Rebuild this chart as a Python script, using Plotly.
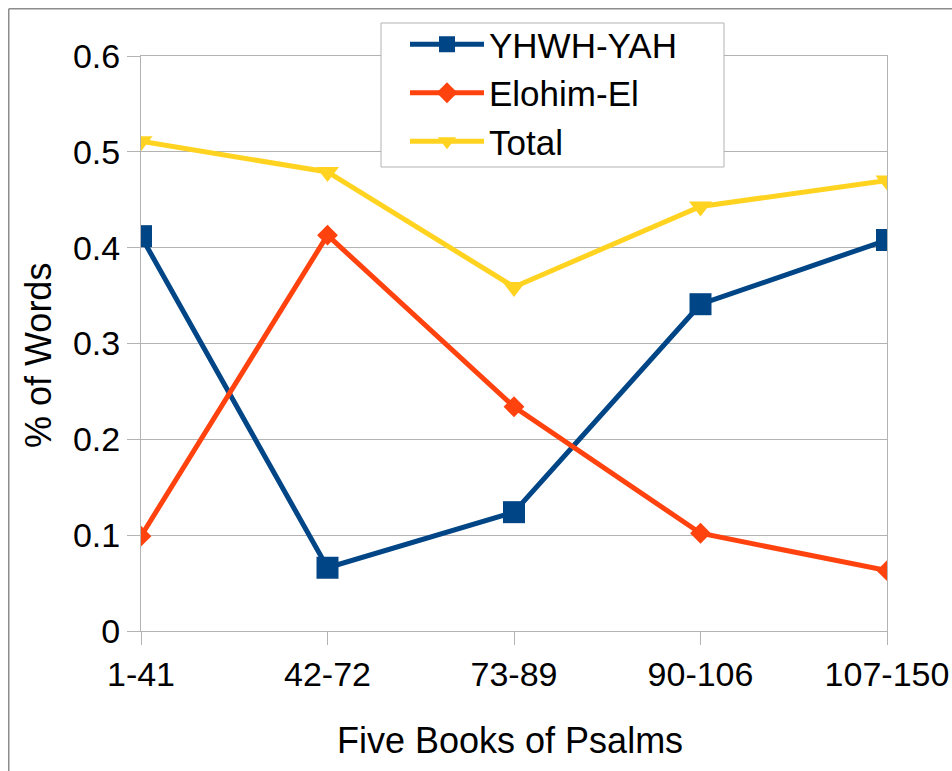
import plotly.graph_objects as go

categories = ["1-41", "42-72", "73-89", "90-106", "107-150"]
yhwh = [0.412, 0.066, 0.124, 0.341, 0.408]
elohim = [0.099, 0.413, 0.234, 0.102, 0.063]
total = [0.511, 0.479, 0.359, 0.443, 0.470]
y_ticks = [0, 0.1, 0.2, 0.3, 0.4, 0.5, 0.6]

FONT = "Liberation Sans, Arial, sans-serif"
GRID = "#b3b3b3"

fig = go.Figure()
fig.add_trace(go.Scatter(x=categories, y=yhwh, name="YHWH-YAH", mode="lines+markers",
                         line=dict(color="#004586", width=5),
                         marker=dict(symbol="square", size=22, color="#004586")))
fig.add_trace(go.Scatter(x=categories, y=elohim, name="Elohim-El", mode="lines+markers",
                         line=dict(color="#ff420e", width=5),
                         marker=dict(symbol="diamond", size=16, color="#ff420e")))
fig.add_trace(go.Scatter(x=categories, y=total, name="Total", mode="lines+markers",
                         line=dict(color="#ffd320", width=5),
                         marker=dict(symbol="triangle-down", size=20, color="#ffd320")))

W, H = 952, 771
L, R, T, B = 141, 887, 56, 631

def px(x):
    return (x - L) / (R - L)

def py(y):
    return (B - y) / (B - T)

fig.update_layout(
    width=W, height=H,
    margin=dict(l=L, r=W - R, t=T, b=H - B, pad=0, autoexpand=False),
    paper_bgcolor="white", plot_bgcolor="white",
    font=dict(family=FONT, size=34, color="black"),
    showlegend=True,
    legend=dict(x=px(405), y=py(15), xanchor="left", yanchor="top",
                borderwidth=0, bgcolor="rgba(0,0,0,0)",
                font=dict(size=35), itemwidth=74, tracegroupgap=0),
    xaxis=dict(type="category", range=[0, 4], showgrid=False, automargin=False,
               showline=True, linecolor=GRID, linewidth=1, mirror=True,
               ticks="outside", ticklen=13, tickcolor=GRID,
               tickfont=dict(size=34), zeroline=False),
    yaxis=dict(range=[0, 0.6], tickvals=y_ticks, ticktext=[f"{v:g}" for v in y_ticks],
               showgrid=True, gridcolor=GRID, gridwidth=1, automargin=False,
               showline=True, linecolor=GRID, linewidth=1, mirror=True,
               ticks="outside", ticklen=13, tickcolor=GRID,
               tickfont=dict(size=34), zeroline=False),
    annotations=[
        dict(text="% of Words", xref="paper", yref="paper", x=px(38), y=py(356),
             textangle=-90, showarrow=False, font=dict(size=36),
             xanchor="center", yanchor="middle"),
        dict(text="Five Books of Psalms", xref="paper", yref="paper", x=px(510), y=py(740),
             showarrow=False, font=dict(size=36), xanchor="center", yanchor="middle"),
    ],
    shapes=[
        dict(type="rect", xref="paper", yref="paper",
             x0=px(381), x1=px(724), y0=py(167), y1=py(23),
             line=dict(color=GRID, width=1), fillcolor="white", layer="above"),
        dict(type="line", xref="paper", yref="paper",
             x0=px(8.75), x1=px(8.75), y0=py(8.75), y1=py(771),
             line=dict(color="#8c8c8c", width=1.5), layer="above"),
        dict(type="line", xref="paper", yref="paper",
             x0=px(8.75), x1=px(952), y0=py(8.75), y1=py(8.75),
             line=dict(color="#8c8c8c", width=1.5), layer="above"),
    ],
)

fig.write_html("out.html", config={"displayModeBar": False},
               post_script="document.body.style.margin='0';document.body.style.overflow='hidden';")
